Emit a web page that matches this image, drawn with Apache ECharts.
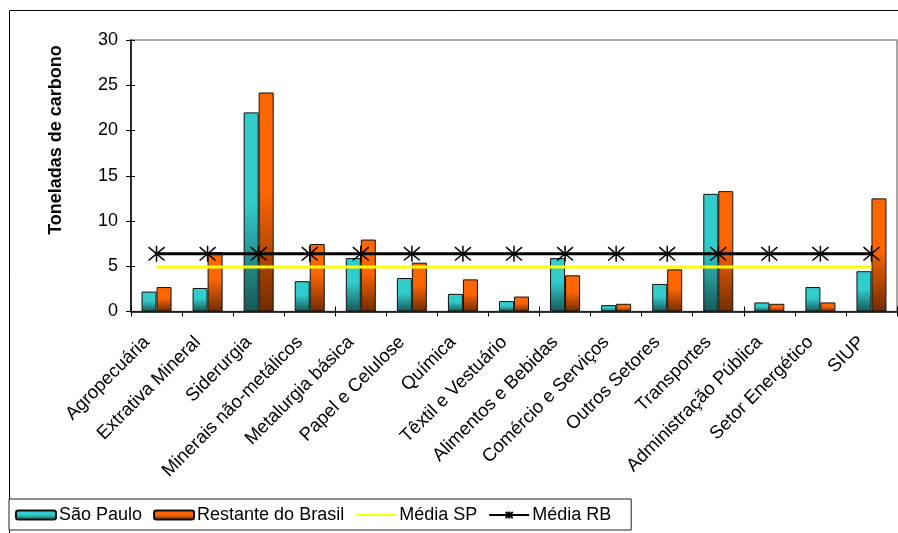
<!DOCTYPE html>
<html>
<head>
<meta charset="utf-8">
<script src="https://cdn.jsdelivr.net/npm/echarts@6/dist/echarts.min.js"></script>
<style>
html,body{margin:0;padding:0;background:#fff;}
#c{width:898px;height:533px;}
</style>
</head>
<body>
<div id="c"></div>
<script>
const categories = ["Agropecuária","Extrativa Mineral","Siderurgia","Minerais não-metálicos","Metalurgia básica","Papel e Celulose","Química","Têxtil e Vestuário","Alimentos e Bebidas","Comércio e Serviços","Outros Setores","Transportes","Administração Pública","Setor Energético","SIUP"];
const saoPaulo = [2.2, 2.6, 22.0, 3.35, 5.9, 3.7, 1.95, 1.15, 5.9, 0.7, 3.05, 13.0, 1.0, 2.7, 4.45];
const restanteBrasil = [2.7, 6.55, 24.2, 7.45, 7.95, 5.4, 3.55, 1.65, 4.0, 0.85, 4.65, 13.3, 0.85, 1.0, 12.5];
const mediaSP = categories.map(() => 4.93);
const mediaRB = categories.map(() => 6.37);
const yTicks = {min: 0, max: 30, interval: 5};

const FONT = 'Liberation Sans, Arial, sans-serif';
const chart = echarts.init(document.getElementById('c'), null, {renderer: 'canvas'});

function grad(top, bottom) {
  return new echarts.graphic.LinearGradient(0, 0, 0, 1, [
    {offset: 0, color: top}, {offset: 0.45, color: top}, {offset: 1, color: bottom}
  ]);
}

const option = {
  backgroundColor: '#fff',
  animation: false,
  textStyle: {fontFamily: FONT},
  graphic: [
    {type: 'rect', shape: {x: 9.5, y: 10.5, width: 900, height: 540}, style: {fill: 'none', stroke: '#000', lineWidth: 1}, z: -10},
    {type: 'text', x: 56, y: 140, rotation: Math.PI / 2,
     style: {text: 'Toneladas de carbono', font: 'bold 18px ' + FONT, fill: '#000', align: 'center', verticalAlign: 'middle'}}
  ],
  grid: {left: 131, right: 1, top: 40, bottom: 221.5, show: true, borderColor: '#8c8c8c', borderWidth: 1.5, containLabel: false},
  legend: {
    left: 9, top: 499,
    orient: 'horizontal',
    itemWidth: 40, itemHeight: 9, itemGap: 11,
    padding: [7, 20, 6, 6],
    borderColor: '#222', borderWidth: 1,
    backgroundColor: '#fff',
    textStyle: {fontSize: 18, color: '#000', fontFamily: FONT, padding: [0, 0, 0, -2]},
    data: ['São Paulo', 'Restante do Brasil', {name: 'Média SP', itemStyle: {opacity: 0}}, 'Média RB']
  },
  xAxis: [
    {type: 'category', data: categories, boundaryGap: true,
     axisLine: {lineStyle: {color: '#000', width: 1.5}},
     axisTick: {show: true, alignWithLabel: false, length: 5, lineStyle: {color: '#000'}},
     axisLabel: {rotate: 45, fontSize: 18.5, color: '#000', margin: 18, interval: 0, fontFamily: FONT, padding: [0, 14, 0, 0]}},
    {type: 'category', data: categories, position: 'bottom', boundaryGap: true,
     axisLine: {show: false}, axisLabel: {show: false},
     axisTick: {show: true, inside: true, length: 5, lineStyle: {color: '#000'}}}
  ],
  yAxis: [
    {type: 'value', min: yTicks.min, max: yTicks.max, interval: yTicks.interval,
     axisLine: {show: true, lineStyle: {color: '#000', width: 1.5}},
     axisTick: {show: true, length: 5, lineStyle: {color: '#000'}},
     splitLine: {show: false},
     axisLabel: {fontSize: 18, color: '#000', margin: 13, fontFamily: FONT}},
    {type: 'value', min: yTicks.min, max: yTicks.max, interval: yTicks.interval, position: 'left',
     axisLine: {show: false}, axisLabel: {show: false}, splitLine: {show: false},
     axisTick: {show: true, inside: true, length: 4, lineStyle: {color: '#000'}}}
  ],
  series: [
    {name: 'São Paulo', type: 'bar', data: saoPaulo, barWidth: 15, barGap: '0%',
     itemStyle: {color: grad('#33CCCC', '#175858'), borderColor: '#111', borderWidth: 1}},
    {name: 'Restante do Brasil', type: 'bar', data: restanteBrasil, barWidth: 15, barGap: '0%',
     itemStyle: {color: grad('#FF6600', '#702C00'), borderColor: '#111', borderWidth: 1}},
    {name: 'Média SP', type: 'line', data: mediaSP, symbol: 'none', z: 5,
     lineStyle: {color: '#FFFF00', width: 3}, itemStyle: {color: '#FFFF00'}},
    {name: 'Média RB', type: 'line', data: mediaRB, z: 6,
     symbol: 'path://M0,0L10,10M10,0L0,10M5,-1L5,11', symbolSize: 16, showSymbol: true,
     lineStyle: {color: '#000', width: 3},
     itemStyle: {color: 'none', borderColor: '#000', borderWidth: 1.5}}
  ]
};
chart.setOption(option);
</script>
</body>
</html>
